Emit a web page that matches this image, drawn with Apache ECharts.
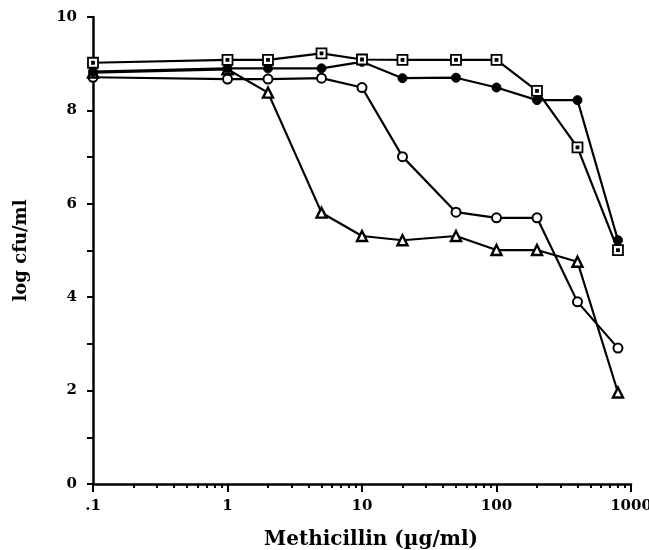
<!DOCTYPE html>
<html>
<head>
<meta charset="utf-8">
<script src="https://cdn.jsdelivr.net/npm/echarts@6/dist/echarts.min.js"></script>
<style>
html,body{margin:0;padding:0;background:#fff;}
#chart{width:649px;height:550px;}
</style>
</head>
<body>
<div id="chart"></div>
<script>
// Methicillin concentrations (µg/ml)
const conc = [0.1, 1, 2, 5, 10, 20, 50, 100, 200, 400, 800];
// log cfu/ml for each strain
const squareVals   = [9.02, 9.08, 9.08, 9.22, 9.09, 9.08, 9.08, 9.08, 8.42, 7.21, 5.01];
const filledVals   = [8.83, 8.90, 8.90, 8.90, 9.04, 8.69, 8.70, 8.49, 8.22, 8.22, 5.22];
const openVals     = [8.71, 8.67, 8.67, 8.69, 8.49, 7.01, 5.82, 5.70, 5.70, 3.90, 2.91];
const triangleVals = [8.81, 8.88, 8.38, 5.81, 5.31, 5.22, 5.31, 5.01, 5.01, 4.76, 1.96];
// axis ticks
const xMajorTicks = [0.1, 1, 10, 100, 1000];
const xMinorTicks = [0.2,0.3,0.4,0.5,0.6,0.7,0.8,0.9,2,3,4,5,6,7,8,9,20,30,40,50,60,70,80,90,200,300,400,500,600,700,800,900];

const pairs = vals => conc.map((c, i) => [c, vals[i]]);
const font = 'DejaVu Serif';
const squareDot = 'path://M0,0 L10,0 L10,10 L0,10 Z M4,4 L6,4 L6,6 L4,6 Z';

const lineStyle = { color: '#000', width: 2.2 };
const chart = echarts.init(document.getElementById('chart'));
chart.setOption({
  animation: false,
  backgroundColor: '#fff',
  grid: { left: 93, right: 18, top: 17, bottom: 66, containLabel: false, outerBoundsMode: 'none' },
  xAxis: [
    {
      type: 'log', logBase: 10, min: 0.1, max: 1000, position: 'bottom',
      name: 'Methicillin (µg/ml)', nameLocation: 'middle', nameGap: 46,
      nameTextStyle: { fontFamily: font, fontWeight: 'bold', fontSize: 20, color: '#000', padding: [0, 0, 0, 18] },
      axisLine: { lineStyle: { color: '#000', width: 2.5 } },
      axisTick: { show: true, length: 8, lineStyle: { color: '#000', width: 2 }, customValues: xMajorTicks },
      axisLabel: {
        customValues: xMajorTicks,
        fontFamily: font, fontWeight: 'bold', fontSize: 15, color: '#000', margin: 15,
        formatter: v => (v < 1 ? String(v).replace(/^0/, '') : String(Math.round(v)))
      },
      splitLine: { show: false }, minorTick: { show: false }, minorSplitLine: { show: false }
    },
    {
      type: 'log', logBase: 10, min: 0.1, max: 1000, position: 'bottom', gridIndex: 0,
      axisLine: { show: false },
      axisTick: { show: true, length: 4, lineStyle: { color: '#000', width: 2 }, customValues: xMinorTicks },
      axisLabel: { show: false },
      splitLine: { show: false }
    }
  ],
  yAxis: {
    type: 'value', min: 0, max: 10, interval: 2,
    name: 'log cfu/ml', nameLocation: 'middle', nameGap: 63, nameRotate: 90,
    nameTextStyle: { fontFamily: font, fontWeight: 'bold', fontSize: 18, color: '#000' },
    axisLine: { show: true, lineStyle: { color: '#000', width: 2.5 } },
    axisTick: { show: true, length: 6, lineStyle: { color: '#000', width: 2 } },
    minorTick: { show: true, splitNumber: 2, length: 6, lineStyle: { color: '#000', width: 2 } },
    axisLabel: { fontFamily: font, fontWeight: 'bold', fontSize: 15, color: '#000', margin: 16 },
    splitLine: { show: false }
  },
  series: [
    {
      type: 'line', name: 'squares', data: pairs(squareVals), xAxisIndex: 0,
      symbol: squareDot, symbolSize: 10,
      itemStyle: { color: '#fff', borderColor: '#000', borderWidth: 1.8 },
      lineStyle: lineStyle, z: 4
    },
    {
      type: 'line', name: 'filled circles', data: pairs(filledVals), xAxisIndex: 0,
      symbol: 'circle', symbolSize: 9,
      itemStyle: { color: '#000', borderColor: '#000', borderWidth: 1 },
      lineStyle: lineStyle, z: 3
    },
    {
      type: 'line', name: 'open circles', data: pairs(openVals), xAxisIndex: 0,
      symbol: 'circle', symbolSize: 9,
      itemStyle: { color: '#fff', borderColor: '#000', borderWidth: 2 },
      lineStyle: lineStyle, z: 2
    },
    {
      type: 'line', name: 'triangles', data: pairs(triangleVals), xAxisIndex: 0,
      symbol: 'triangle', symbolSize: 10,
      itemStyle: { color: '#fff', borderColor: '#000', borderWidth: 2.4 },
      lineStyle: lineStyle, z: 2
    }
  ]
});
</script>
</body>
</html>
